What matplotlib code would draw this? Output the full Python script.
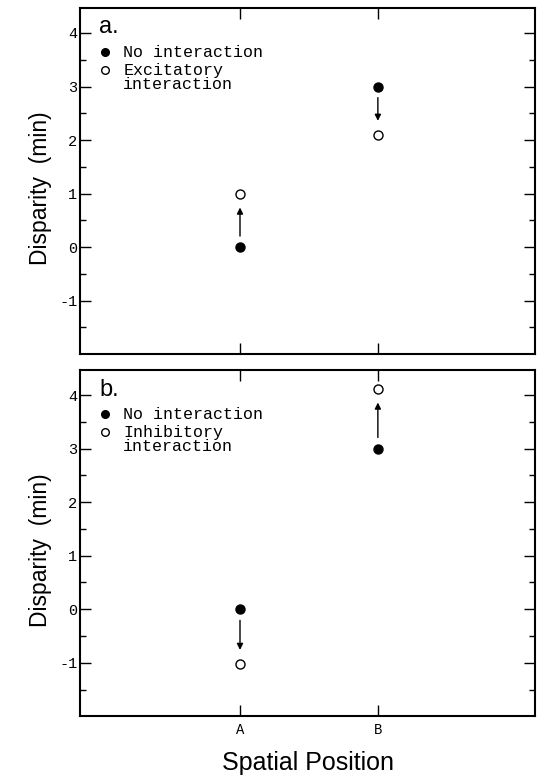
import matplotlib
matplotlib.use("Agg")
import matplotlib.pyplot as plt
from matplotlib.ticker import FixedLocator

positions = [1, 2]
position_labels = ["A", "B"]
y_ticks = [-1, 0, 1, 2, 3, 4]
y_minor = [-1.5, -0.5, 0.5, 1.5, 2.5, 3.5]

# panel a: excitatory interaction
a_none = [0.0, 3.0]
a_inter = [1.0, 2.1]
# panel b: inhibitory interaction
b_none = [0.0, 3.0]
b_inter = [-1.02, 4.12]

panels = [
    ("a.", a_none, a_inter, "Excitatory\ninteraction"),
    ("b.", b_none, b_inter, "Inhibitory\ninteraction"),
]

MONO = "Liberation Mono"
SANS = "Liberation Sans"

fig = plt.figure(figsize=(5.41, 7.82), dpi=100)
rects = [[0.148, 0.547, 0.841, 0.443], [0.148, 0.084, 0.841, 0.443]]

for rect, (tag, none, inter, label) in zip(rects, panels):
    ax = fig.add_axes(rect)
    ax.plot(positions, none, "o", color="black", ms=6.5, zorder=3)
    ax.plot(positions, inter, "o", mfc="white", mec="black", mew=1.0, ms=6.5, zorder=3)
    for x, y0, y1 in zip(positions, none, inter):
        ax.annotate("", xy=(x, y1), xytext=(x, y0),
                    arrowprops=dict(arrowstyle="-|>", color="black", lw=1.0,
                                    mutation_scale=9, shrinkA=8, shrinkB=10))
    ax.set_xlim(-0.16, 3.14)
    ax.set_ylim(-2.0, 4.47)
    ax.yaxis.set_major_locator(FixedLocator(y_ticks))
    ax.yaxis.set_minor_locator(FixedLocator(y_minor))
    ax.set_yticklabels([str(v) for v in y_ticks], fontfamily=MONO, fontsize=11)
    ax.set_xticks(positions)
    ax.tick_params(axis="both", which="major", direction="in", length=8, width=1.0,
                   top=True, right=True, pad=2)
    ax.tick_params(axis="y", which="minor", direction="in", length=4.5, width=1.0, right=True)
    for s in ax.spines.values():
        s.set_linewidth(1.5)
    ax.set_ylabel("Disparity  (min)", fontfamily=SANS, fontsize=16.5)
    ax.yaxis.set_label_coords(-0.062, 0.48)

    ax.text(0.042, 0.975, tag, transform=ax.transAxes, fontfamily=SANS, fontsize=17,
            va="top", ha="left")
    ax.plot([0.055], [0.872], "o", color="black", ms=5.5, transform=ax.transAxes)
    ax.plot([0.055], [0.82], "o", mfc="white", mec="black", mew=1.0, ms=5.5,
            transform=ax.transAxes)
    ax.text(0.095, 0.872, "No interaction", transform=ax.transAxes, fontfamily=MONO,
            fontsize=12, va="center", ha="left")
    ax.text(0.095, 0.842, label, transform=ax.transAxes, fontfamily=MONO,
            fontsize=12, va="top", ha="left", linespacing=0.95)

    if tag == "b.":
        ax.set_xticklabels(position_labels, fontfamily=MONO, fontsize=10)
        ax.tick_params(axis="x", pad=5)
        ax.set_xlabel("Spatial Position", fontfamily=SANS, fontsize=18, labelpad=10)
    else:
        ax.set_xticklabels([])

fig.savefig("out.png", dpi=100)
